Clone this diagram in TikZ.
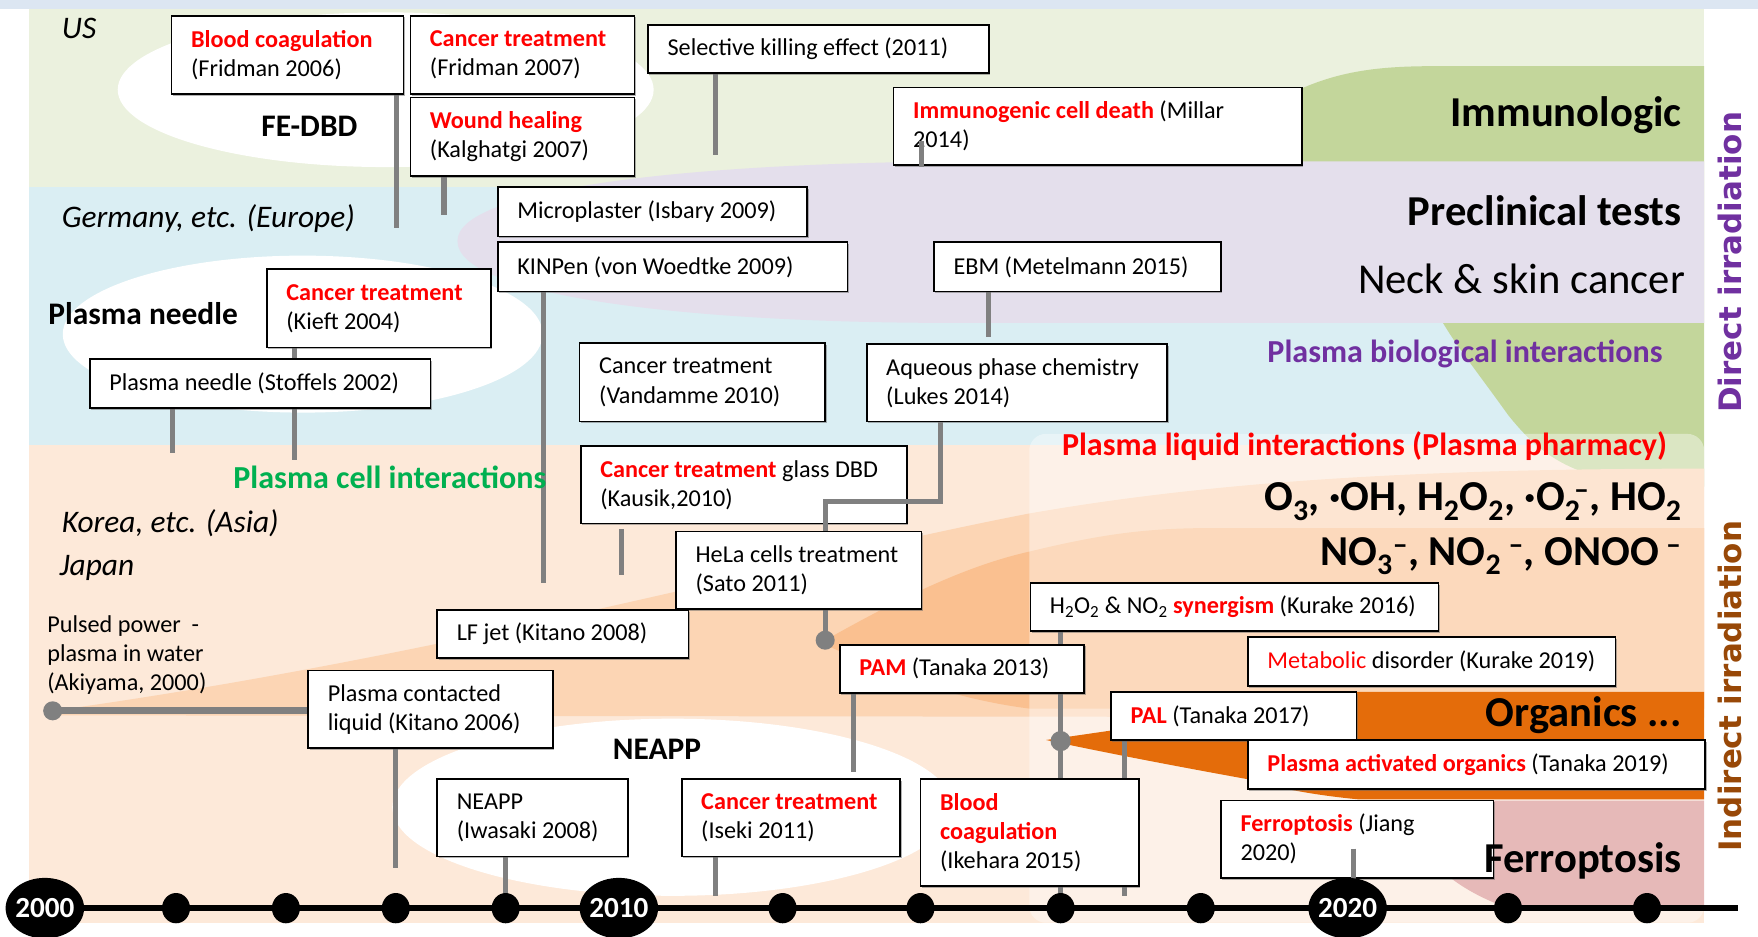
\documentclass[tikz,border=0pt]{standalone}
\usepackage{fontspec}
\setmainfont{Carlito}
\newfontfamily\vfont{DejaVu Sans}
\usetikzlibrary{calc,shadows}
\definecolor{topstrip}{HTML}{DCE6F2}
\definecolor{usband}{HTML}{EBF1DE}
\definecolor{euband}{HTML}{DAEEF3}
\definecolor{asband}{HTML}{FDE9D9}
\definecolor{greenr}{HTML}{C3D69B}
\definecolor{lav}{HTML}{E4DFEC}
\definecolor{fanA}{HTML}{FCD5B4}
\definecolor{fanB}{HTML}{FAC090}
\definecolor{orng}{HTML}{E46C0A}
\definecolor{pnk}{HTML}{E6B9B8}
\definecolor{lgray}{HTML}{808080}
\definecolor{grn}{HTML}{00B050}
\definecolor{purp}{HTML}{7030A0}
\definecolor{brn}{HTML}{984807}
\newcommand\redb[1]{{\color{red}\bfseries #1}}
\newcommand\evbox[5]{%
  \node[evbox, minimum width=#3, minimum height=#4] (#1) at (#2) {};
  \node[evtext] (#1-t) at ([xshift=18pt]#1.west) {#5};
}
\begin{document}
\begin{tikzpicture}[x=1pt,y=-1pt,
  evbox/.style={draw=black, line width=1.5pt, fill=white, inner sep=0pt,
    drop shadow={shadow xshift=1.2pt, shadow yshift=-1.6pt, fill=black!60, opacity=0.5}},
  evtext/.style={anchor=west, align=left, inner sep=0pt, font=\fontsize{21.6}{26}\selectfont},
  conn/.style={draw=lgray, line width=4.5pt},
  reglab/.style={font=\fontsize{28}{32}\selectfont\itshape, inner sep=0pt},
  boldlab/.style={font=\fontsize{28}{32}\selectfont\bfseries, inner sep=0pt},
  midlab/.style={font=\fontsize{28.6}{32}\selectfont\bfseries, inner sep=0pt},
  biglab/.style={font=\fontsize{38}{44}\selectfont\bfseries, inner sep=0pt},
  biglabr/.style={font=\fontsize{38}{44}\selectfont, inner sep=0pt},
  irr/.style={font=\fontsize{27.6}{30}\selectfont\vfont\bfseries, rotate=90, inner sep=0pt},
  yearlab/.style={font=\fontsize{26}{30}\selectfont\bfseries, text=white, inner sep=0pt}
]
\useasboundingbox (0,0) rectangle (1568,835);
% ---------- background bands ----------
\fill[white] (0,0) rectangle (1568,835);
\fill[topstrip] (0,0) rectangle (1568,8);
\fill[usband] (26,8) rectangle (1520,167);
\fill[euband] (26,167) rectangle (1520,397);
\fill[asband] (26,397) rectangle (1520,823);
% green (immunologic / biological)
\fill[greenr] (1130,95) .. controls (1180,65) and (1220,59) .. (1280,59) -- (1520,59) -- (1520,434)
  -- (1440,428) .. controls (1390,420) and (1365,395) .. (1345,370)
  .. controls (1320,335) and (1300,310) .. (1287,288) -- (1287,200) -- (1130,147) -- cycle;
% lavender (preclinical)
\fill[lav] (408,215) .. controls (408,170) and (600,146) .. (850,144) -- (1520,144) -- (1520,288)
  -- (850,288) .. controls (600,288) and (408,262) .. (408,215) -- cycle;
% white ellipses
\fill[white] (344,80) ellipse [x radius=239, y radius=69];
\fill[white] (270,298) ellipse [x radius=214, y radius=70];
% fans in Asia band
\fill[fanA] (47,634) .. controls (400,585) and (700,500) .. (918,458)
  .. controls (1100,426) and (1300,418) .. (1520,418) -- (1520,640) -- (47,638) -- cycle;
\fill[fanB] (736,571) .. controls (800,535) and (860,505) .. (918,492)
  .. controls (980,477) and (1020,471) .. (1080,471) -- (1520,471) -- (1520,632)
  -- (918,632) .. controls (840,622) and (780,595) .. (736,575) -- cycle;
\fill[white] (600,720) ellipse [x radius=250, y radius=79];
% plasma liquid overlay
\fill[white, opacity=0.4, rounded corners=15] (918,387) rectangle (1520,823);
% organics wedge
\fill[orng] (933,660) -- (995,651) -- (995,617) -- (1520,617) -- (1520,713) -- (1212,713)
  .. controls (1160,708) and (1130,700) .. (1113,695)
  .. controls (1030,680) and (970,668) .. (933,660) -- cycle;
% ferroptosis
\fill[pnk] (1245,714) -- (1520,714) -- (1520,810) -- (1345,810)
  .. controls (1290,790) and (1262,760) .. (1245,714) -- cycle;

% ---------- connector end points ----------
\coordinate (e1) at (354,203);
\coordinate (e2) at (396,192);
\coordinate (e3) at (638,138);
\coordinate (e4a) at (822,126);
\coordinate (e4b) at (822,149);
\coordinate (e5) at (485,520);
\coordinate (e6) at (263,410);
\coordinate (e7) at (154,404);
\coordinate (e8) at (882,301);
\coordinate (e9) at (839,447);
\coordinate (e9b) at (736,447);
\coordinate (e10a) at (554,472);
\coordinate (e10b) at (554,513);
\coordinate (dHeLa) at (736,571);
\coordinate (e12) at (761,689);
\coordinate (e13) at (353,774);
\coordinate (dAki) at (47,634);
\coordinate (d2008) at (451,810);
\coordinate (e16) at (638.5,799);
\coordinate (dPAL) at (946,661);
\coordinate (e17) at (946,799);
\coordinate (e18) at (1003,799);
\coordinate (e19a) at (1207,757);
\coordinate (e19b) at (1207,790);
% box attachment points (connectors behind the boxes)
\coordinate (fr06s) at (354,84);
\coordinate (wounds) at (396,157);
\coordinate (selks) at (638,65);
\coordinate (kinps) at (485,260);
\coordinate (kiefs) at (263,310);
\coordinate (stofs) at (154,364);
\coordinate (ebms) at (882,260);
\coordinate (helas) at (736,543);
\coordinate (pams) at (761,618);
\coordinate (kit06s) at (353,667);
\coordinate (kit06w) at (275,634);
\coordinate (iwas) at (451,764);
\coordinate (isekis) at (638.5,764);
\coordinate (syns) at (946,563);
\coordinate (pals) at (1003,660);

\draw[conn] (fr06s) -- (e1);
\draw[conn] (wounds) -- (e2);
\draw[conn] (selks) -- (e3);
\draw[conn] (kinps) -- (e5);
\draw[conn] (kiefs) -- (e6);
\draw[conn] (stofs) -- (e7);
\draw[conn] (ebms) -- (e8);
\draw[conn] (e10a) -- (e10b);
\draw[conn] (helas) -- (dHeLa);
\fill[lgray] (dHeLa) ellipse [x radius=8.5, y radius=8.5];
\draw[conn] (pams) -- (e12);
\draw[conn] (kit06s) -- (e13);
\draw[conn, line width=6pt] (dAki) -- (kit06w);
\fill[lgray] (dAki) ellipse [x radius=8.5, y radius=8.5];
\draw[conn] (iwas) -- (d2008);
\draw[conn] (isekis) -- (e16);
\draw[conn] (syns) -- (e17);
\fill[lgray] (dPAL) ellipse [x radius=9, y radius=9];
\draw[conn] (pals) -- (e18);

% ---------- boxes ----------
\evbox{fr06}{256.5,49}{207}{70}{\redb{Blood coagulation}\\(Fridman 2006)}
\evbox{fr07}{466,49}{200}{70}{\redb{Cancer treatment}\\(Fridman 2007)}
\evbox{wound}{466,122}{200}{70}{\redb{Wound healing}\\(Kalghatgi 2007)}
\evbox{selk}{730,43.5}{304}{43}{Selective killing effect (2011)}
\evbox{millar}{979,112.5}{364}{69}{\redb{Immunogenic cell death} (Millar\\2014)}
\evbox{isbary}{582,189}{276}{44}{Microplaster (Isbary 2009)}
\evbox{kinpen}{600,238}{312}{44}{KINPen (von Woedtke 2009)}
\evbox{kieft}{338,275}{200}{70}{\redb{Cancer treatment}\\(Kieft 2004)}
\evbox{stoffels}{232,342}{304}{44}{Plasma needle (Stoffels 2002)}
\evbox{vandamme}{626.5,341}{219}{70}{Cancer treatment\\(Vandamme 2010)}
\evbox{ebm}{961,238}{256}{44}{EBM (Metelmann 2015)}
\evbox{lukes}{907,341.5}{268}{69}{Aqueous phase chemistry\\(Lukes 2014)}
\evbox{kausik}{663.5,432.5}{291}{69}{\redb{Cancer treatment} glass DBD\\(Kausik,2010)}
\evbox{hela}{712.5,508.5}{219}{69}{HeLa cells treatment\\(Sato 2011)}
\evbox{lfjet}{502,565.5}{224}{43}{LF jet (Kitano 2008)}
\evbox{kit06}{384,632.5}{218}{69}{Plasma contacted\\liquid (Kitano 2006)}
\evbox{iwasaki}{475,729.5}{170}{69}{NEAPP\\(Iwasaki 2008)}
\evbox{iseki}{705.5,729.5}{195}{69}{\redb{Cancer treatment}\\(Iseki 2011)}
\evbox{pam}{858,596.5}{218}{43}{\redb{PAM} (Tanaka 2013)}
\evbox{syn}{1101,541.5}{364}{43}{H\textsubscript{2}O\textsubscript{2} \& NO\textsubscript{2} \redb{synergism} (Kurake 2016)}
\evbox{metab}{1277,590}{328}{44}{{\color{red}Metabolic} disorder (Kurake 2019)}
\evbox{pal}{1100.5,638.5}{219}{43}{\redb{PAL} (Tanaka 2017)}
\evbox{pao}{1317,682}{408}{44}{\redb{Plasma activated organics} (Tanaka 2019)}
\evbox{ikehara}{918.5,742.5}{195}{95}{\redb{Blood}\\\redb{coagulation}\\(Ikehara 2015)}
\evbox{jiang}{1210.5,748.5}{243}{69}{\redb{Ferroptosis} (Jiang\\2020)}

% connectors drawn over boxes
\draw[conn] (e4a) -- (e4b);
\draw[conn] (lukes.south -| e9) -- (e9) -- (e9b) -- (hela.north -| e9b);
\draw[conn] (e19a) -- (e19b);

% ---------- timeline ----------
\coordinate (tl0) at (40,810);
\coordinate (tl1) at (1550,810);
\draw[line width=5.5pt, black] (tl0) -- (tl1);
\foreach \tx in {157,255,353,451,698,821,946,1071,1345,1469}{
  \fill[black] (\tx,810) ellipse [x radius=12.5, y radius=13.5];
}
\foreach \tx/\yr in {40/2000,552/2010,1202/2020}{
  \fill[black] (\tx,810) ellipse [x radius=35, y radius=27];
  \node[yearlab] (y\yr) at (\tx,810) {\yr};
}

% ---------- labels ----------
\node[reglab, anchor=west] (lUS) at (55,25) {US};
\node[boldlab] (lFE) at (276,113) {FE-DBD};
\node[reglab, anchor=west] (lGer) at (55,195) {Germany, etc. (Europe)};
\node[boldlab, anchor=west] (lPN) at (43,280) {Plasma needle};
\node[midlab, anchor=west, text=grn] (lPci) at (208,426) {Plasma cell interactions};
\node[reglab, anchor=west] (lKor) at (55,467) {Korea, etc. (Asia)};
\node[reglab, anchor=west] (lJap) at (53,507) {Japan};
\node[evtext] (lAki) at (42,584) {Pulsed power\ \ -\\plasma in water\\(Akiyama, 2000)};
\node[boldlab] (lNE) at (586,668) {NEAPP};

\node[biglab, anchor=east] (lImm) at (1500,103) {Immunologic};
\node[biglab, anchor=east] (lPre) at (1500,188) {Preclinical tests};
\node[biglabr, anchor=east] (lNeck) at (1503,249) {Neck \& skin cancer};
\node[midlab, anchor=east, text=red] (lPli) at (1487,398) {Plasma liquid interactions (Plasma pharmacy)};
\node[midlab, anchor=east, text=purp] (lPbi) at (1483,316) {Plasma biological interactions};
\node[biglab, anchor=east] (lF1) at (1500,447) {O\textsubscript{3}, ·OH, H\textsubscript{2}O\textsubscript{2}, ·O\textsubscript{2}\kern-0.15em\textsuperscript{–}, HO\textsubscript{2}};
\node[biglab, anchor=east] (lF2) at (1500,496) {NO\textsubscript{3}\textsuperscript{–}, NO\textsubscript{2}\,\textsuperscript{–}, ONOO\,\textsuperscript{–}};
\node[biglab, anchor=east] (lOrg) at (1500,638) {Organics ...};
\node[biglab, anchor=east] (lFer) at (1500,768) {Ferroptosis};

\node[irr, text=purp] (lDir) at (1543,234) {Direct irradiation};
\node[irr, text=brn] (lInd) at (1543,612) {Indirect irradiation};
\end{tikzpicture}
\end{document}
